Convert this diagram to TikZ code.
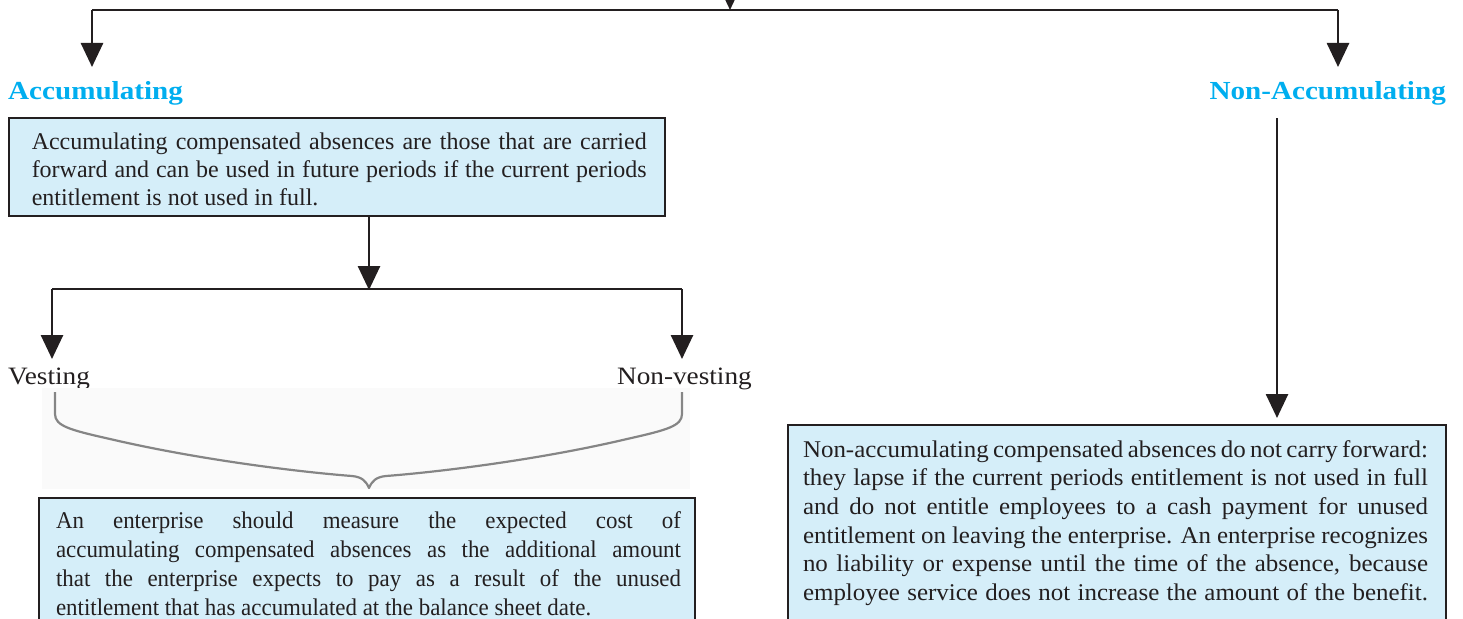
\documentclass[tikz,border=0pt]{standalone}
\usepackage{fontspec}
\setmainfont{Liberation Serif}
\newfontfamily\headfont[FakeStretch=1.12]{Liberation Serif}
\newfontfamily\labelfont[FakeStretch=1.09]{Liberation Serif}
\newfontfamily\rightfont[FakeStretch=1.04]{Liberation Serif}
\newfontfamily\leftfont[FakeStretch=0.955]{Liberation Serif}
\usetikzlibrary{arrows.meta,calc}
\definecolor{ink}{HTML}{231F20}
\definecolor{headblue}{HTML}{00AEEF}
\definecolor{boxfill}{HTML}{D5EEF9}
\definecolor{bracegray}{HTML}{858585}
\newcommand\fullline[2]{\makebox[#1][s]{\strut #2}}
\newcommand\lastline[2]{\makebox[#1][l]{\strut #2}}
\begin{document}
\begin{tikzpicture}[x=1pt,y=-1pt,
  line/.style={draw=ink,line width=2.7pt},
  conn/.style={draw=ink,line width=2.7pt,-{Triangle[width=22pt,length=24pt]}},
  head/.style={font=\headfont\fontsize{26}{30}\selectfont\bfseries,text=headblue,inner sep=0pt},
  plain/.style={font=\labelfont\fontsize{25}{28}\selectfont,text=ink,inner sep=0pt},
  infobox/.style={draw=ink,line width=2pt,fill=boxfill,anchor=north west,inner sep=0pt},
  boxtext/.style={align=left,text=ink,inner sep=0pt,anchor=center},
]
\useasboundingbox (0,0) rectangle (1463,618);
% top connector
\coordinate (src) at (730,-30);
\coordinate (hl) at (92,10);
\coordinate (hr) at (1338,10);
\coordinate (hm) at (730,10);
\draw[conn] (src) -- (hm);
\draw[line] (hl) -- (hr);
% headings
\node[head,anchor=base west] (acc) at (8,99) {Accumulating};
\node[head,anchor=base east] (nacc) at (1446,99) {Non-Accumulating};
\draw[conn] (hl) -- ($(hl)+(0,57)$);
\draw[conn] (hr) -- ($(hr)+(0,57)$);
% accumulating box
\node[infobox,minimum width=656pt,minimum height=98pt] (box1) at (8,117) {};
\node[boxtext,font=\fontsize{24}{28}\selectfont] (t1) at (339.25,171.9)
 {\fullline{615pt}{Accumulating compensated absences are those that are carried}\\
  \fullline{615pt}{forward and can be used in future periods if the current periods}\\
  \lastline{615pt}{entitlement is not used in full.}};
\coordinate (b1out) at (369,215);
\coordinate (split) at (369,289);
\coordinate (sl) at (52,289);
\coordinate (sr) at (682,289);
\draw[conn] (b1out) -- ($(split)+(0,1)$);
\draw[line] (sl) -- (sr);
\node[plain,anchor=base west] (vest) at (8,384) {Vesting};
\node[plain,anchor=base east] (nvest) at (752,384) {Non-vesting};
\draw[conn] (sl) -- ($(sl)+(0,70)$);
\draw[conn] (sr) -- ($(sr)+(0,70)$);
% brace
\fill[black!2] (42,388) rectangle (690,489);
\coordinate (brl) at (55,392);
\coordinate (brr) at (682,392);
\coordinate (brtip) at (369,488);
\draw[bracegray,line width=2.2pt,line join=round]
  (brl) -- (55,414) .. controls (55,426) and (70,430) .. (110,439)
  .. controls (200,460) and (300,472) .. (352,476)
  .. controls (362,477) and (366,481) .. (brtip)
  .. controls (372,481) and (376,477) .. (386,476)
  .. controls (438,472) and (538,460) .. (627,439)
  .. controls (667,430) and (682,426) .. (682,414) -- (brr);
% bottom left box
\node[infobox,minimum width=656pt,minimum height=160pt] (box2) at (38,497) {};
\node[boxtext,font=\leftfont\fontsize{24}{29}\selectfont] (t2) at (368.5,566)
 {\fullline{625pt}{An enterprise should measure the expected cost of}\\
  \fullline{625pt}{accumulating compensated absences as the additional amount}\\
  \fullline{625pt}{that the enterprise expects to pay as a result of the unused}\\
  \lastline{625pt}{entitlement that has accumulated at the balance sheet date.}};
% non accumulating
\coordinate (nout) at (1277,118);
\draw[conn] (nout) -- (1277,418);
\node[infobox,minimum width=658pt,minimum height=230pt] (box3) at (787,424) {};
\node[boxtext,font=\rightfont\fontsize{24}{28.65}\selectfont] (t3) at (1115.5,523)
 {\fullline{625pt}{Non-accumulating compensated absences do not carry forward:}\\
  \fullline{625pt}{they lapse if the current periods entitlement is not used in full}\\
  \fullline{625pt}{and do not entitle employees to a cash payment for unused}\\
  \fullline{625pt}{entitlement on leaving the enterprise. An enterprise recognizes}\\
  \fullline{625pt}{no liability or expense until the time of the absence, because}\\
  \fullline{625pt}{employee service does not increase the amount of the benefit.}};
\end{tikzpicture}
\end{document}
